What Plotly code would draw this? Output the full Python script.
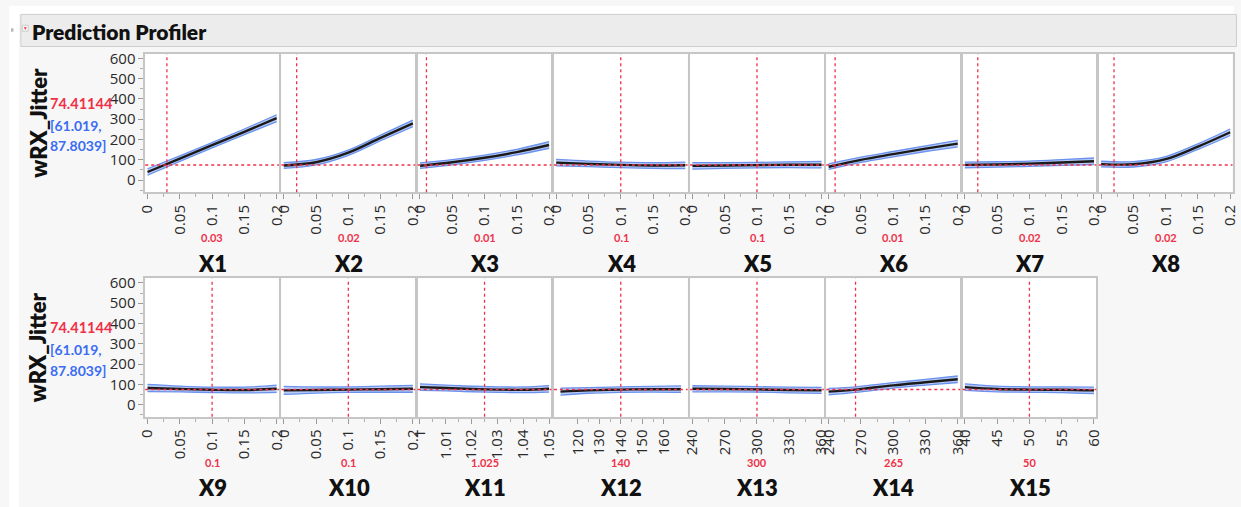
import plotly.graph_objects as go

W, H = 1241, 507

# ---- profile data -------------------------------------------------------
response = "wRX_Jitter"
pred_value = 74.41144
ci_low, ci_high = 61.019, 87.8039

factors = ["X1", "X2", "X3", "X4", "X5", "X6", "X7", "X8",
           "X9", "X10", "X11", "X12", "X13", "X14", "X15"]
current = [0.03, 0.02, 0.01, 0.1, 0.1, 0.01, 0.02, 0.02,
           0.1, 0.1, 1.025, 140, 300, 265, 50]
current_text = ["0.03", "0.02", "0.01", "0.1", "0.1", "0.01", "0.02", "0.02",
                "0.1", "0.1", "1.025", "140", "300", "265", "50"]
x_lo = [0, 0, 0, 0, 0, 0, 0, 0, 0, 0, 1.0, 110, 240, 240, 40]
x_hi = [0.2, 0.2, 0.2, 0.2, 0.2, 0.2, 0.2, 0.2, 0.2, 0.2, 1.05, 170, 360, 360, 60]

frac_ticks = [0, 0.05, 0.1, 0.15, 0.2]
frac_labels = ["0", "0.05", "0.1", "0.15", "0.2"]
x11_ticks = [1.0, 1.01, 1.02, 1.03, 1.04, 1.05]
x11_labels = ["1", "1.01", "1.02", "1.03", "1.04", "1.05"]
x12_ticks = [120, 130, 140, 150, 160]
deg_ticks = [240, 270, 300, 330, 360]
x15_ticks = [40, 45, 50, 55, 60]

# profile grids
grid_frac = [0, 0.05, 0.1, 0.15, 0.2]
grid_x11 = [1.0, 1.01, 1.02, 1.03, 1.04, 1.05]
grid_x12 = [112, 125, 140, 155, 168]
grid_x13 = [240, 270, 300, 330, 360]
grid_x14 = [240, 265, 300, 330, 360]
grid_x15 = [40, 45, 50, 55, 60]

# predicted response along each factor
pred_x1 = [40, 106, 172, 238, 305]
pred_x2 = [72, 88, 135, 208, 280]
pred_x3 = [71, 88, 110, 138, 173]
pred_x4 = [86, 80, 75, 72, 73]
pred_x5 = [70, 72, 74, 76, 76]
pred_x6 = [66, 100, 128, 155, 180]
pred_x7 = [75, 77, 81, 87, 93]
pred_x8 = [79, 78, 103, 165, 236]
pred_x9 = [82, 77, 73, 72, 78]
pred_x10 = [70, 72, 74, 76, 78]
pred_x11 = [86, 82, 77, 74, 73, 78]
pred_x12 = [64, 70, 74, 76, 76]
pred_x13 = [78, 77, 75, 72, 70]
pred_x14 = [64, 74, 95, 110, 125]
pred_x15 = [86, 77, 74, 73, 70]

# half width of the confidence band along each factor
half_x1 = [16, 13.5, 13, 14, 17]
half_x2 = [14, 13.5, 13, 14, 16]
half_x3 = [13.5, 13, 13, 14, 16]
half_x4 = [16, 14, 13.4, 14, 16]
half_x5 = [16, 14, 13.4, 14, 16]
half_x6 = [13.5, 13, 13, 14, 16]
half_x7 = [14, 13.5, 13, 14, 16]
half_x8 = [14, 13.5, 13, 14, 16]
half_x9 = [18, 14.5, 13.4, 14.5, 18]
half_x10 = [20, 15, 13.4, 15, 17]
half_x11 = [16, 14, 13.5, 13.5, 14, 16]
half_x12 = [17, 14, 13.4, 14, 16]
half_x13 = [15, 14, 13.4, 14, 15]
half_x14 = [16, 13.4, 13.5, 14, 16]
half_x15 = [16, 14, 13.4, 14, 16]

grids = [grid_frac] * 10 + [grid_x11, grid_x12, grid_x13, grid_x14, grid_x15]
preds = [pred_x1, pred_x2, pred_x3, pred_x4, pred_x5, pred_x6, pred_x7, pred_x8,
         pred_x9, pred_x10, pred_x11, pred_x12, pred_x13, pred_x14, pred_x15]
halves = [half_x1, half_x2, half_x3, half_x4, half_x5, half_x6, half_x7, half_x8,
          half_x9, half_x10, half_x11, half_x12, half_x13, half_x14, half_x15]
tick_sets = [(frac_ticks, frac_labels)] * 10 + [
    (x11_ticks, x11_labels),
    (x12_ticks, [str(v) for v in x12_ticks]),
    (deg_ticks, [str(v) for v in deg_ticks]),
    (deg_ticks, [str(v) for v in deg_ticks]),
    (x15_ticks, [str(v) for v in x15_ticks]),
]

y_ticks = [0, 100, 200, 300, 400, 500, 600]

# ---- styling ------------------------------------------------------------
RED = "#ee3148"
BLUE = "#3a6cf4"
BAND_FILL = "rgba(172,194,243,0.85)"
BAND_EDGE = "#6b92ee"
BORDER = "#c6c6c6"
FONT = "Open Sans, Noto Sans, sans-serif"
BOLD = "Lato, Roboto, sans-serif"

PANEL_W = 138
LEFT0 = 137
rows_top = [48.5, 275.7]
PANEL_H = 140
Y_RANGE = [-60, 622]


def px(xp):
    return xp / W


def py(yp):
    return 1 - yp / H


def heavy(size, color="#111111", weight=800):
    return dict(family=BOLD, size=size, color=color, weight=weight)


fig = go.Figure()
layout = {}
shapes = []
annotations = []

for k, name in enumerate(factors):
    row = 0 if k < 8 else 1
    col = k if k < 8 else k - 8
    ax = k + 1
    xa = "xaxis" if ax == 1 else f"xaxis{ax}"
    ya = "yaxis" if ax == 1 else f"yaxis{ax}"
    xr = "x" if ax == 1 else f"x{ax}"
    yr = "y" if ax == 1 else f"y{ax}"

    left = LEFT0 + PANEL_W * col
    right = min(left + PANEL_W - 1.5, W)
    top = rows_top[row]
    bottom = top + PANEL_H

    span = x_hi[k] - x_lo[k]
    pad = span * 0.018
    tv, tt = tick_sets[k]

    layout[xa] = dict(
        domain=[px(left + 1), px(right)], anchor=yr,
        range=[x_lo[k] - pad, x_hi[k] + pad],
        tickmode="array", tickvals=tv, ticktext=tt, tickangle=-90,
        ticks="outside", ticklen=5, tickcolor="#9a9a9a",
        minor=dict(ticks="outside", ticklen=3, tickcolor="#b0b0b0",
                   tickvals=[(tv[i] + tv[i + 1]) / 2 for i in range(len(tv) - 1)]),
        tickfont=dict(family=FONT, size=15, color="#2a2a2a"),
        showgrid=False, zeroline=False,
        showline=True, mirror=True, linecolor=BORDER, linewidth=1.5,
    )
    first = col == 0
    layout[ya] = dict(
        domain=[py(bottom), py(top)], anchor=xr,
        range=Y_RANGE,
        tickmode="array", tickvals=y_ticks,
        showticklabels=first,
        ticks="outside" if first else "", ticklen=5, tickcolor="#9a9a9a",
        minor=dict(ticks="outside" if first else "", ticklen=3, tickcolor="#b0b0b0",
                   dtick=50, tick0=0),
        tickfont=dict(family=FONT, size=15, color="#2a2a2a"),
        showgrid=False, zeroline=False,
        showline=True, mirror=True, linecolor=BORDER, linewidth=1.5,
    )

    g = grids[k]
    p = preds[k]
    h = halves[k]
    upper = [a + b for a, b in zip(p, h)]
    lower = [a - b for a, b in zip(p, h)]

    fig.add_trace(go.Scatter(x=g, y=upper, xaxis=xr, yaxis=yr, mode="lines",
                             line=dict(color=BAND_EDGE, width=1.3, shape="spline"),
                             hoverinfo="skip", showlegend=False))
    fig.add_trace(go.Scatter(x=g, y=lower, xaxis=xr, yaxis=yr, mode="lines",
                             line=dict(color=BAND_EDGE, width=1.3, shape="spline"),
                             fill="tonexty", fillcolor=BAND_FILL,
                             hoverinfo="skip", showlegend=False))
    fig.add_trace(go.Scatter(x=g, y=p, xaxis=xr, yaxis=yr, mode="lines",
                             line=dict(color="#1a1a1a", width=2.4, shape="spline"),
                             name=name, showlegend=False))

    # current setting and predicted value
    shapes.append(dict(type="line", xref=xr, yref=f"{yr} domain",
                       x0=current[k], x1=current[k], y0=0, y1=1,
                       line=dict(color=RED, width=1.3, dash="dot")))
    shapes.append(dict(type="line", xref=f"{xr} domain", yref=yr,
                       x0=0, x1=1, y0=pred_value, y1=pred_value,
                       line=dict(color=RED, width=1.3, dash="dot")))

    cx = px((left + left + PANEL_W) / 2)
    annotations.append(dict(text=current_text[k], xref="paper", yref="paper",
                            x=cx, y=py(bottom + 46), showarrow=False,
                            font=heavy(11, RED, 700),
                            xanchor="center", yanchor="middle"))
    annotations.append(dict(text=name, xref="paper", yref="paper",
                            x=cx, y=py(bottom + 72), showarrow=False,
                            font=heavy(22),
                            xanchor="center", yanchor="middle"))

# response labels on the left of each row
for row in range(2):
    top = rows_top[row]
    annotations.append(dict(text=response, xref="paper", yref="paper",
                            x=px(29), y=py(top + 70), textangle=-90, showarrow=False,
                            font=heavy(22),
                            xanchor="center", yanchor="middle"))
    annotations.append(dict(text=f"{pred_value:.5f}", xref="paper", yref="paper",
                            x=px(40), y=py(top + 50), showarrow=False,
                            font=heavy(14.5, RED, 700),
                            xanchor="left", yanchor="middle"))
    annotations.append(dict(text=f"[{ci_low:g},", xref="paper", yref="paper",
                            x=px(40), y=py(top + 72), showarrow=False,
                            font=heavy(14, BLUE, 700),
                            xanchor="left", yanchor="middle"))
    annotations.append(dict(text=f"{ci_high:g}]", xref="paper", yref="paper",
                            x=px(40), y=py(top + 93), showarrow=False,
                            font=heavy(14, BLUE, 700),
                            xanchor="left", yanchor="middle"))

# header bar
annotations.append(dict(text="Prediction Profiler", xref="paper", yref="paper",
                        x=px(21), y=py(26), showarrow=False,
                        font=heavy(21),
                        xanchor="left", yanchor="middle"))

back_shapes = [
    dict(type="rect", xref="paper", yref="paper", x0=0, x1=px(10), y0=0, y1=1,
         fillcolor="white", line=dict(width=0), layer="below"),
    dict(type="rect", xref="paper", yref="paper", x0=0, x1=1, y0=py(8), y1=1,
         fillcolor="white", line=dict(width=0), layer="below"),
    dict(type="rect", xref="paper", yref="paper", x0=px(12), x1=1.002, y0=py(41), y1=py(8.5),
         fillcolor="#ececec", line=dict(color="#cdcdcd", width=1), layer="below"),
    dict(type="rect", xref="paper", yref="paper", x0=px(13.5), x1=px(19.5), y0=py(25.5), y1=py(19.5),
         fillcolor="#f4f4f4", line=dict(color="#c8c8c8", width=0.8), layer="below"),
    dict(type="path", xref="paper", yref="paper",
         path=f"M {px(15)},{py(21.5)} L {px(18)},{py(21.5)} L {px(16.5)},{py(24)} Z",
         fillcolor=RED, line=dict(width=0), layer="above"),
    dict(type="rect", xref="paper", yref="paper", x0=px(2), x1=px(4.5), y0=py(26), y1=py(22.5),
         fillcolor="#b8b8b8", line=dict(width=0), layer="below"),
]

fig.update_layout(
    width=W, height=H,
    margin=dict(l=0, r=0, t=0, b=0),
    paper_bgcolor="#f7f7f7",
    plot_bgcolor="white",
    showlegend=False,
    shapes=back_shapes + shapes,
    annotations=annotations,
    **layout,
)

fig.write_html("out.html")
